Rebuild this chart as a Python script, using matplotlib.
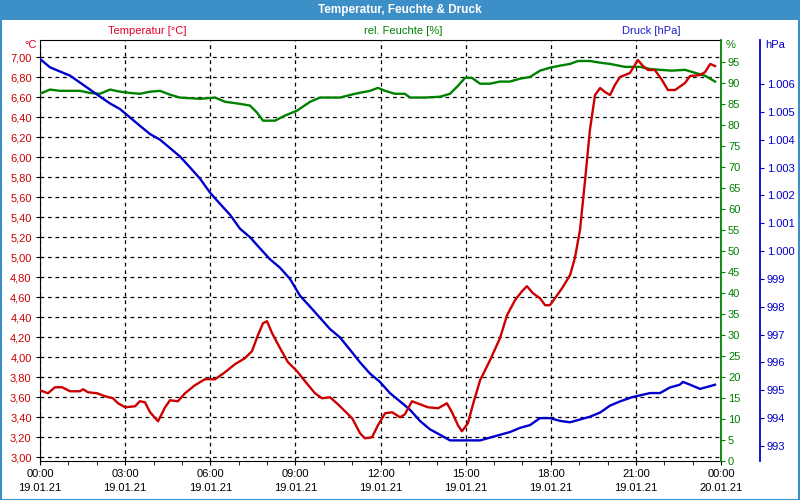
import matplotlib
matplotlib.use("Agg")
import matplotlib.pyplot as plt
import matplotlib.ticker as mticker
from matplotlib.patches import Rectangle
import numpy as np

plt.rcParams['font.family'] = ['Liberation Sans', 'DejaVu Sans']
plt.rcParams['font.size'] = 8

# ---- data (hours after 19.01.21 00:00) ----
temp_h = [0, 0.28, 0.53, 0.78, 1.06, 1.41, 1.52, 1.69, 2.01, 2.29, 2.57, 2.75, 3.0, 3.35, 3.52,
          3.70, 3.88, 4.16, 4.41, 4.58, 4.86, 5.11, 5.46, 5.81, 6.17, 6.52, 6.87, 7.22, 7.47,
          7.68, 7.86, 8.0, 8.18, 8.46, 8.74, 9.06, 9.34, 9.69, 9.94, 10.22, 10.50, 10.75, 11.0,
          11.28, 11.45, 11.70, 11.91, 12.16, 12.41, 12.69, 12.86, 13.11, 13.39, 13.67, 14.03,
          14.34, 14.52, 14.73, 14.87, 15.08, 15.26, 15.51, 15.86, 16.21, 16.46, 16.74, 16.99,
          17.16, 17.37, 17.62, 17.80, 17.97, 18.15, 18.40, 18.68, 18.85, 19.03, 19.21, 19.38,
          19.56, 19.74, 19.91, 20.09, 20.26, 20.44, 20.79, 21.07, 21.25, 21.43, 21.67, 21.92,
          22.13, 22.38, 22.73, 22.91, 23.26, 23.44, 23.62, 23.79]
temp_v = [3.67, 3.64, 3.70, 3.70, 3.66, 3.66, 3.68, 3.65, 3.64, 3.61, 3.59, 3.54, 3.50, 3.51, 3.56,
          3.55, 3.45, 3.36, 3.50, 3.57, 3.56, 3.64, 3.72, 3.78, 3.78, 3.85, 3.93, 3.99, 4.06,
          4.22, 4.34, 4.36, 4.24, 4.09, 3.95, 3.86, 3.76, 3.64, 3.59, 3.60, 3.53, 3.46, 3.39,
          3.24, 3.19, 3.20, 3.32, 3.44, 3.45, 3.40, 3.43, 3.56, 3.53, 3.50, 3.49,
          3.54, 3.45, 3.32, 3.26, 3.34, 3.53, 3.77, 3.97, 4.19, 4.42, 4.57, 4.66,
          4.71, 4.64, 4.59, 4.52, 4.52, 4.59, 4.69, 4.82, 4.99, 5.27, 5.77, 6.27,
          6.62, 6.69, 6.65, 6.62, 6.72, 6.80, 6.84, 6.97, 6.91, 6.87, 6.87, 6.77,
          6.67, 6.67, 6.74, 6.81, 6.82, 6.85, 6.93, 6.91]

hum_h = [0, 0.35, 0.70, 1.41, 1.76, 2.11, 2.47, 2.82, 3.17, 3.52, 3.88, 4.23, 4.58, 4.93, 5.64,
         6.17, 6.52, 7.05, 7.40, 7.65, 7.86, 8.28, 8.63, 9.06, 9.52, 9.87, 10.57, 11.10, 11.63,
         11.91, 12.16, 12.51, 12.86, 13.04, 13.57, 14.10, 14.45, 14.73, 14.98, 15.22, 15.51,
         15.86, 16.21, 16.56, 16.92, 17.27, 17.62, 17.97, 18.33, 18.68, 18.96, 19.38, 19.74,
         20.09, 20.62, 21.15, 21.50, 21.85, 22.27, 22.73, 23.08, 23.44, 23.79]
hum_v = [87.4, 88.4, 88.1, 88.1, 87.6, 87.4, 88.4, 87.9, 87.6, 87.4, 87.9, 88.1, 87.2, 86.5, 86.2,
         86.5, 85.5, 85.0, 84.6, 82.9, 81.0, 81.0, 82.2, 83.4, 85.5, 86.5, 86.5, 87.4, 88.1,
         88.8, 88.1, 87.4, 87.4, 86.5, 86.5, 86.7, 87.4, 89.3, 91.2, 91.2, 89.8,
         89.8, 90.3, 90.3, 91.0, 91.4, 92.9, 93.6, 94.1, 94.5, 95.2, 95.2, 94.8,
         94.5, 93.8, 93.8, 93.3, 93.1, 92.9, 93.1, 92.4, 91.7, 90.3]

pres_h = [0, 0.35, 0.70, 1.06, 1.41, 1.76, 2.11, 2.47, 2.82, 3.17, 3.52, 3.88, 4.23, 4.58, 4.93,
          5.29, 5.64, 5.99, 6.34, 6.70, 7.05, 7.40, 7.75, 8.11, 8.46, 8.81, 9.16, 9.52, 9.87,
          10.22, 10.57, 10.93, 11.28, 11.63, 11.98, 12.33, 12.69, 13.04, 13.39, 13.74, 14.10,
          14.45, 14.80, 15.15, 15.51, 15.86, 16.21, 16.56, 16.92, 17.27, 17.62, 17.97, 18.33,
          18.68, 19.03, 19.38, 19.74, 20.09, 20.44, 20.86, 21.50, 21.85, 22.20, 22.55, 22.66,
          22.91, 23.26, 23.62, 23.79]
pres_v = [1006.9, 1006.6, 1006.45, 1006.3, 1006.05, 1005.8, 1005.55, 1005.3, 1005.1, 1004.8, 1004.5,
          1004.2, 1004.0, 1003.7, 1003.4, 1003.0, 1002.6, 1002.1, 1001.7, 1001.3, 1000.8, 1000.5,
          1000.1, 999.7, 999.4, 999.0, 998.4, 998.0, 997.6, 997.2, 996.9, 996.45, 996.0, 995.6,
          995.3, 994.9, 994.6, 994.3, 993.9, 993.6, 993.4, 993.2, 993.2, 993.2, 993.2, 993.3,
          993.4, 993.5, 993.65, 993.75, 994.0, 994.0, 993.9, 993.85, 993.95, 994.05, 994.2,
          994.45, 994.6, 994.75, 994.9, 994.9, 995.1, 995.2, 995.3, 995.2, 995.05, 995.15, 995.2]

x_tick_hours = [0, 3, 6, 9, 12, 15, 18, 21, 24]
x_tick_labels = ["00:00\n19.01.21", "03:00\n19.01.21", "06:00\n19.01.21", "09:00\n19.01.21",
                 "12:00\n19.01.21", "15:00\n19.01.21", "18:00\n19.01.21", "21:00\n19.01.21",
                 "00:00\n20.01.21"]

RED = "#cc0000"
GREEN = "#008000"
BLUE = "#0000cc"
BAR = "#3d8fc7"

W, H = 800, 500
fig = plt.figure(figsize=(8, 5), dpi=100)
fig.patch.set_facecolor("white")

# title bar and frame
fig.patches.append(Rectangle((0, 1 - 20 / H), 1, 20 / H, transform=fig.transFigure,
                             facecolor=BAR, edgecolor="none", zorder=0))
fig.patches.append(Rectangle((0.5 / W, 0.5 / H), 1 - 1.5 / W, 1 - 1.5 / H, transform=fig.transFigure,
                             facecolor="none", edgecolor=BAR, linewidth=1.5, zorder=0))
fig.text(0.5, 1 - 10 / H, "Temperatur, Feuchte & Druck", ha="center", va="center",
         color="white", fontweight="bold", fontsize=8.5)

left, right, top, bottom = 40, 721, 40, 461
ax = fig.add_axes([left / W, 1 - bottom / H, (right - left) / W, (bottom - top) / H])
ax.set_xlim(0, 24)
ax.set_ylim(2.963, 7.17)
ax.set_yticks(np.round(np.arange(3.0, 7.001, 0.2), 2))
ax.yaxis.set_major_formatter(mticker.FuncFormatter(lambda v, p: f"{v:.2f}".replace(".", ",")))
ax.set_xticks(x_tick_hours)
ax.set_xticklabels(x_tick_labels, linespacing=1.45)
ax.set_xticks(np.arange(0, 25, 1), minor=True)
ax.tick_params(axis="x", which="both", direction="out", length=3, color="black", pad=3)
ax.tick_params(axis="y", direction="out", length=3, colors=RED, pad=3)
ax.tick_params(axis="y", which="major", color="black")
for s in ["left", "bottom", "top"]:
    ax.spines[s].set_color("black")
ax.spines["right"].set_visible(False)
ax.grid(True, which="major", color="black", linestyle=(0, (3, 3)), linewidth=0.9)
ax.set_axisbelow(True)

# humidity axis
axh = ax.twinx()
axh.set_ylim(0, 100.2)
axh.set_yticks(np.arange(0, 96, 5))
axh.tick_params(axis="y", direction="out", length=3, colors=GREEN, pad=2)
axh.spines["right"].set_color(GREEN)
axh.spines["right"].set_linewidth(1.3)
for s in ["left", "top", "bottom"]:
    axh.spines[s].set_visible(False)
axh.plot(hum_h, hum_v, color=GREEN, linewidth=1.7)

# pressure axis
axp = ax.twinx()
axp.set_ylim(992.46, 1007.58)
axp.spines["right"].set_position(("outward", 28))
axp.spines["right"].set_color(BLUE)
axp.spines["right"].set_linewidth(1.3)
for s in ["left", "top", "bottom"]:
    axp.spines[s].set_visible(False)
axp.set_yticks(np.arange(993, 1007, 1))
axp.yaxis.set_major_formatter(mticker.FuncFormatter(lambda v, p: f"{int(round(v)):,}".replace(",", ".")))
axp.tick_params(axis="y", direction="out", length=3, colors=BLUE, pad=2)
axp.plot(pres_h, pres_v, color=BLUE, linewidth=1.7)

# temperature line on top
axt = ax.twinx()
axt.set_ylim(ax.get_ylim())
axt.set_axis_off()
axt.plot(temp_h, temp_v, color=RED, linewidth=1.7)

# headers
fig.text(147 / W, 1 - 31 / H, "Temperatur [°C]", ha="center", va="center", color="#e0002a")
fig.text(403 / W, 1 - 31 / H, "rel. Feuchte [%]", ha="center", va="center", color=GREEN)
fig.text(651 / W, 1 - 31 / H, "Druck [hPa]", ha="center", va="center", color="#2020cc")
fig.text(37 / W, 1 - 45 / H, "°C", ha="right", va="center", color="#e0002a")
fig.text(726 / W, 1 - 45 / H, "%", ha="left", va="center", color=GREEN)
fig.text(765 / W, 1 - 45 / H, "hPa", ha="left", va="center", color=BLUE)

fig.savefig("out.png", dpi=100)
